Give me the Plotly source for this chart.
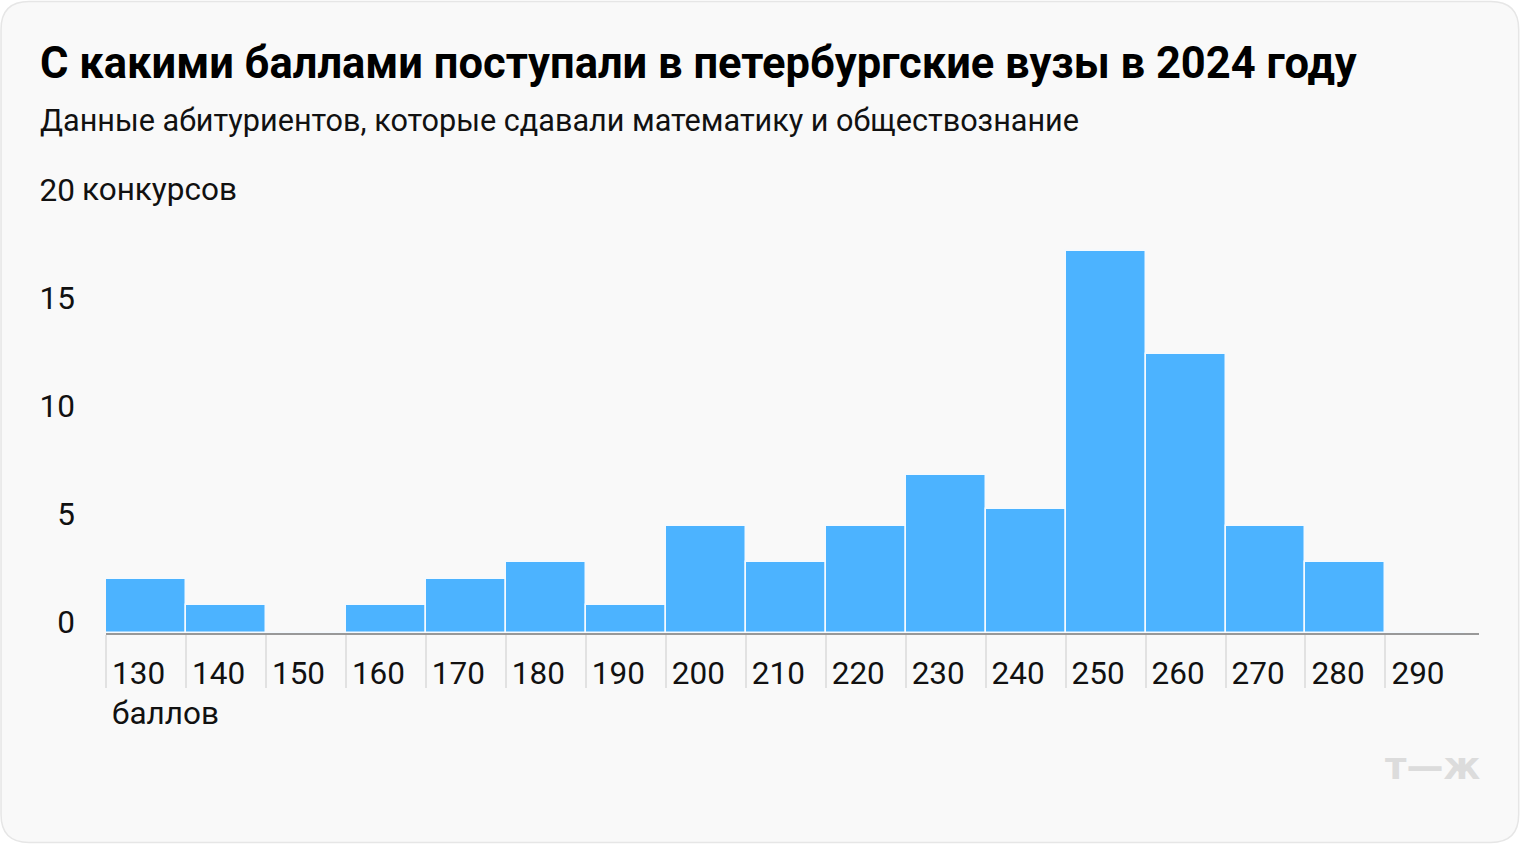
import plotly.graph_objects as go

# ---- data ----
bins = [130, 140, 150, 160, 170, 180, 190, 200, 210, 220, 230, 240, 250, 260, 270, 280, 290]
counts = [2.5, 1.3, 0, 1.3, 2.5, 3.3, 1.3, 4.95, 3.3, 4.95, 7.3, 5.75, 17.7, 12.9, 4.95, 3.3, 0]
x_labels = [str(b) for b in bins]
y_ticks = [0, 5, 10, 15, 20]
y_labels = ["0", "5", "10", "15", "20"]

title = "С какими баллами поступали в петербургские вузы в 2024 году"
subtitle = "Данные абитуриентов, которые сдавали математику и обществознание"

# ---- layout geometry ----
FW, FH = 1520, 844
L, R, T, B = 106, 40.7, 200.7, 210.7
PW, PH = FW - L - R, FH - T - B


def px(xp):
    return (xp - L) / PW


def py(yp):
    return (FH - B - yp) / PH


FONT = "Roboto"
TICK = 31.5

fig = go.Figure()
fig.add_trace(go.Bar(
    x=bins, y=counts, width=10, offset=0,
    marker=dict(color="#4cb3ff", line=dict(color="#f4faff", width=1.5)),
    hoverinfo="skip",
))

# rounded card background
r = 28
x0, x1, y0, y1 = 1, FW - 1, 1, FH - 1
rx, ry = r / PW, r / PH
X0, X1, Y0, Y1 = px(x0), px(x1), py(y1), py(y0)
path = (f"M {X0+rx},{Y1} L {X1-rx},{Y1} Q {X1},{Y1} {X1},{Y1-ry} "
        f"L {X1},{Y0+ry} Q {X1},{Y0} {X1-rx},{Y0} L {X0+rx},{Y0} "
        f"Q {X0},{Y0} {X0},{Y0+ry} L {X0},{Y1-ry} Q {X0},{Y1} {X0+rx},{Y1} Z")
fig.add_shape(type="path", path=path, xref="paper", yref="paper",
              fillcolor="#f9f9f9", line=dict(color="#e6e6e6", width=1.5), layer="below")

# extended tick line for the first label
fig.add_shape(type="line", xref="x", yref="y", x0=bins[0], x1=bins[0],
              ysizemode="pixel", yanchor=0, y0=0, y1=-90,
              line=dict(color="#e2e2e2", width=2), layer="below")

fig.add_annotation(text=title, xref="paper", yref="paper", x=px(38), y=py(91),
                   xanchor="left", yanchor="bottom", showarrow=False,
                   font=dict(family=FONT, size=43.5, color="#000", weight=700))
fig.add_annotation(text=subtitle, xref="paper", yref="paper", x=px(38), y=py(140),
                   xanchor="left", yanchor="bottom", showarrow=False,
                   font=dict(family=FONT, size=30.6, color="#111"))
fig.add_annotation(text="конкурсов", xref="paper", yref="y", x=px(80), y=y_ticks[-1],
                   xanchor="left", yanchor="bottom", yshift=-9, showarrow=False,
                   font=dict(family=FONT, size=TICK, color="#111"))
fig.add_annotation(text="баллов", xref="x", yref="paper", x=bins[0], y=py(734),
                   xanchor="left", yanchor="bottom", xshift=4, showarrow=False,
                   font=dict(family=FONT, size=TICK, color="#111"))
fig.add_annotation(text="<b>т—ж</b>", xref="paper", yref="paper", x=px(1482), y=py(791),
                   xanchor="right", yanchor="bottom", showarrow=False,
                   font=dict(family="DejaVu Sans", size=37, color="#dcdcdc"))

fig.update_layout(
    width=FW, height=FH,
    margin=dict(l=L, r=R, t=T, b=B, autoexpand=False),
    paper_bgcolor="#ffffff", plot_bgcolor="rgba(0,0,0,0)",
    showlegend=False, bargap=0,
    font=dict(family=FONT, size=TICK, color="#111"),
    xaxis=dict(range=[130, 301.7], tickvals=bins, ticktext=x_labels,
               showgrid=False, zeroline=False, showline=True,
               linecolor="#999999", linewidth=2,
               ticks="outside", ticklen=53, tickwidth=2, tickcolor="#e2e2e2",
               ticklabelposition="outside right", ticklabelstandoff=11,
               ticklabelshift=4,
               tickfont=dict(family=FONT, size=TICK, color="#111")),
    yaxis=dict(range=[0, 20], tickvals=y_ticks, ticktext=y_labels,
               showgrid=False, zeroline=False, showline=False,
               ticks="", ticklabelposition="outside top", ticklabelstandoff=30,
               ticklabelshift=11,
               tickfont=dict(family=FONT, size=TICK, color="#111")),
)

fig.write_html("out.html")
